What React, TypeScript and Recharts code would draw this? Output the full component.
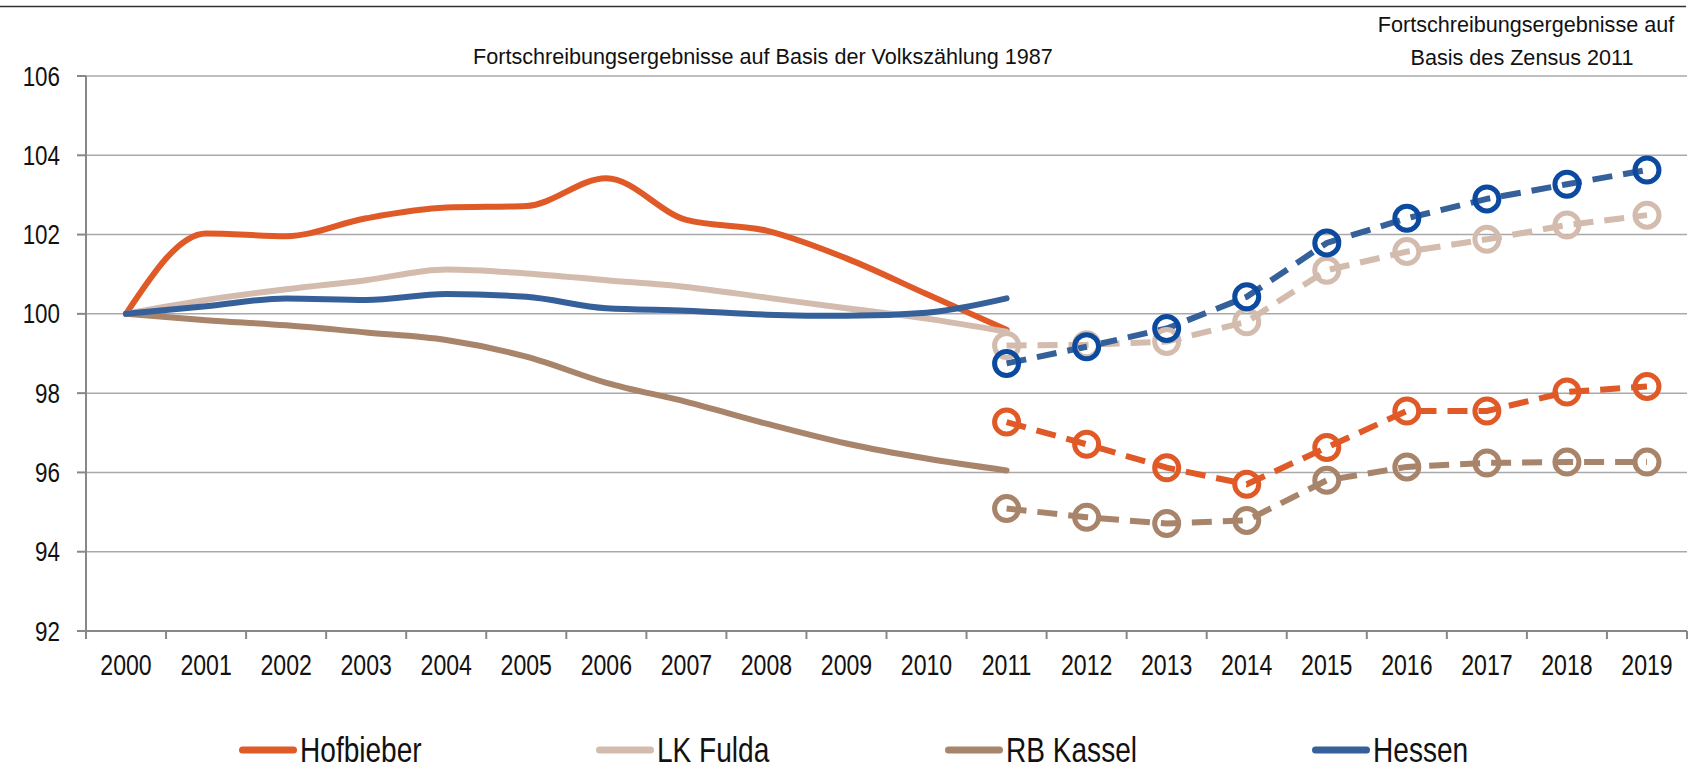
import React from 'react';
import { LineChart, Line, XAxis, YAxis, CartesianGrid } from 'recharts';

const years = [2000, 2001, 2002, 2003, 2004, 2005, 2006, 2007, 2008, 2009, 2010, 2011, 2012, 2013, 2014, 2015, 2016, 2017, 2018, 2019];
const yTicks = [92, 94, 96, 98, 100, 102, 104, 106];

// Fortschreibung auf Basis der Volkszählung 1987, 2000–2011
const hofbieberVz = [100, 102.03, 101.96, 102.41, 102.68, 102.72, 103.42, 102.37, 102.1, 101.4, 100.5, 99.6];
const fuldaVz = [100, 100.35, 100.62, 100.85, 101.12, 101.02, 100.85, 100.68, 100.41, 100.14, 99.88, 99.55];
const kasselVz = [100, 99.84, 99.71, 99.53, 99.34, 98.92, 98.26, 97.78, 97.23, 96.73, 96.35, 96.05];
const hessenVz = [100, 100.19, 100.39, 100.35, 100.5, 100.43, 100.14, 100.08, 99.98, 99.95, 100.03, 100.39];

// Fortschreibung auf Basis des Zensus 2011, 2011–2019
const hofbieberZensus = [97.27, 96.71, 96.12, 95.7, 96.63, 97.55, 97.55, 98.03, 98.17];
const fuldaZensus = [99.2, 99.22, 99.3, 99.8, 101.1, 101.57, 101.88, 102.24, 102.49];
const kasselZensus = [95.09, 94.87, 94.71, 94.79, 95.8, 96.14, 96.24, 96.26, 96.26];
const hessenZensus = [98.75, 99.17, 99.63, 100.43, 101.79, 102.41, 102.9, 103.27, 103.63];

const seriesNames = ['Hofbieber', 'LK Fulda', 'RB Kassel', 'Hessen'];
const noteVz = 'Fortschreibungsergebnisse auf Basis der Volkszählung 1987';
const noteZensus = ['Fortschreibungsergebnisse auf', 'Basis des Zensus 2011'];

const COLORS = ['#e05a28', '#d3bbad', '#a8846b', '#35609a'];
const MARKER_COLORS = ['#e05a28', '#d3bbad', '#a8846b', '#0b4a9e'];

const FONT = '"Liberation Sans", Arial, sans-serif';
const AXIS = '#888888';
const X_TICK_MARGIN = 23;
const X_TICK_LEN = 8;

const vzSeries = [hofbieberVz, fuldaVz, kasselVz, hessenVz];
const zensusSeries = [hofbieberZensus, fuldaZensus, kasselZensus, hessenZensus];
const zensusStart = 2011;

const data = years.map((year, i) => {
  const row: Record<string, number | null> = { year };
  vzSeries.forEach((s, k) => {
    row[`vz${k}`] = i < s.length ? s[i] : null;
  });
  zensusSeries.forEach((s, k) => {
    const j = year - zensusStart;
    row[`z${k}`] = j >= 0 && j < s.length ? s[j] : null;
  });
  return row;
});

const domain = [years[0] - 0.5, years[years.length - 1] + 0.5];

// Liberation Sans squeezed horizontally to look like Arial Narrow
function NarrowText({ x, y, value, size, anchor, dy, sx }: any) {
  return (
    <g transform={`translate(${x},${y})`}>
      <text transform={`scale(${sx},1)`} textAnchor={anchor} dy={dy} fontSize={size} fontFamily={FONT} fill="#111">
        {value}
      </text>
    </g>
  );
}

// year label in the middle of its slot, tick marks on the slot borders
const XTick = (props: any) => {
  const { x, y, payload, index, width } = props;
  const band = width / years.length;
  const axisY = y - X_TICK_MARGIN;
  const last = index === years.length - 1;
  return (
    <g>
      <line x1={x - band / 2} x2={x - band / 2} y1={axisY} y2={axisY + X_TICK_LEN} stroke={AXIS} strokeWidth={2} />
      {last && (
        <line x1={x + band / 2} x2={x + band / 2} y1={axisY} y2={axisY + X_TICK_LEN} stroke={AXIS} strokeWidth={2} />
      )}
      <NarrowText x={x} y={y} value={payload.value} size={30} sx={0.77} anchor="middle" dy="0.71em" />
    </g>
  );
};

const YTick = (props: any) => (
  <NarrowText x={props.x} y={props.y} value={props.payload.value} size={27} sx={0.83} anchor="end" dy="0.355em" />
);

const LEGEND_X = [239, 596, 945, 1312];

export default function App() {
  return (
    <div style={{ position: 'absolute', left: 0, top: 0, width: 1689, height: 769, background: '#fff' }}>
      <LineChart width={1689} height={769} data={data} margin={{ top: 76, right: 2, left: 0, bottom: 88 }}>
        <CartesianGrid vertical={false} stroke="#a9a9a9" strokeWidth={1.5} />
        <XAxis
          dataKey="year"
          type="number"
          domain={domain}
          ticks={years}
          interval={0}
          allowDataOverflow
          tickLine={false}
          tickSize={0}
          tickMargin={X_TICK_MARGIN}
          height={50}
          axisLine={{ stroke: AXIS, strokeWidth: 2 }}
          tick={XTick}
        />
        <YAxis
          domain={[92, 106]}
          ticks={yTicks}
          interval={0}
          width={86}
          tickSize={9}
          tickMargin={17}
          axisLine={{ stroke: AXIS, strokeWidth: 2 }}
          tickLine={{ stroke: AXIS, strokeWidth: 2 }}
          tick={YTick}
        />
        {seriesNames.map((name, k) => (
          <Line
            key={`vz${k}`}
            name={name}
            dataKey={`vz${k}`}
            type="monotone"
            stroke={COLORS[k]}
            strokeWidth={6}
            strokeLinecap="round"
            dot={false}
            activeDot={false}
            isAnimationActive={false}
          />
        ))}
        {seriesNames.map((name, k) => (
          <Line
            key={`z${k}`}
            name={`${name} Zensus`}
            dataKey={`z${k}`}
            type="linear"
            stroke={COLORS[k]}
            strokeWidth={6}
            strokeDasharray="20 11"
            dot={{ r: 12, strokeWidth: 5, fill: 'none', stroke: MARKER_COLORS[k], strokeDasharray: 'none' }}
            activeDot={false}
            isAnimationActive={false}
          />
        ))}
      </LineChart>

      <svg width={1689} height={769} style={{ position: 'absolute', left: 0, top: 0, pointerEvents: 'none' }}>
        <line x1={0} y1={6.5} x2={1686} y2={6.5} stroke="#333" strokeWidth={1.5} />
        <text x={763} y={64} textAnchor="middle" fontSize={21.6} fontFamily={FONT} fill="#111">
          {noteVz}
        </text>
        <text x={1526} y={32} textAnchor="middle" fontSize={21.6} fontFamily={FONT} fill="#111">
          {noteZensus[0]}
        </text>
        <text x={1522} y={65} textAnchor="middle" fontSize={21.6} fontFamily={FONT} fill="#111">
          {noteZensus[1]}
        </text>
        {seriesNames.map((name, k) => (
          <g key={name}>
            <line
              x1={LEGEND_X[k] + 3.5}
              x2={LEGEND_X[k] + 54.5}
              y1={750}
              y2={750}
              stroke={COLORS[k]}
              strokeWidth={7}
              strokeLinecap="round"
            />
            <NarrowText x={LEGEND_X[k] + 61} y={762} value={name} size={36} sx={0.78} anchor="start" dy={0} />
          </g>
        ))}
      </svg>
    </div>
  );
}
